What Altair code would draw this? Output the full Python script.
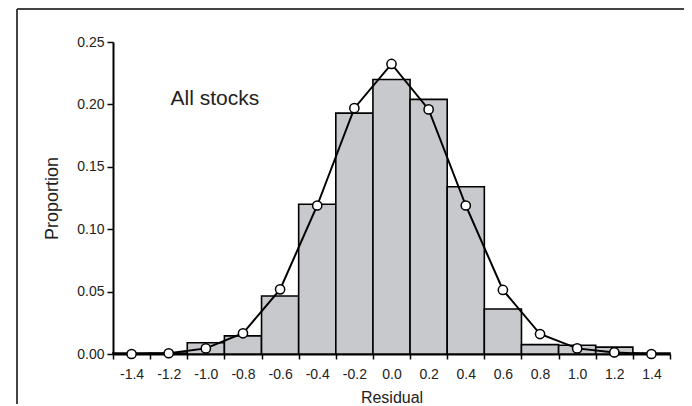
import altair as alt
import pandas as pd

# ---- data ----
bin_centers = [-1.4, -1.2, -1.0, -0.8, -0.6, -0.4, -0.2, 0.0, 0.2, 0.4, 0.6, 0.8, 1.0, 1.2, 1.4]
bar_props = [0.0008, 0.0008, 0.009, 0.0145, 0.0465, 0.120, 0.193, 0.220, 0.204, 0.134, 0.036, 0.0075, 0.007, 0.0055, 0.0008]
fit_props = [0.0, 0.0006, 0.0045, 0.0166, 0.0518, 0.119, 0.197, 0.2324, 0.196, 0.119, 0.0513, 0.016, 0.0045, 0.0013, 0.0]
x_tick_values = [-1.5, -1.3, -1.1, -0.9, -0.7, -0.5, -0.3, -0.1, 0.1, 0.3, 0.5, 0.7, 0.9, 1.1, 1.3, 1.5]
y_tick_values = [0.0, 0.05, 0.10, 0.15, 0.20, 0.25]
annot_text = ["All stocks"]
annot_x = [-1.19]
annot_y = [0.204]

FONT = "Liberation Sans"
TXT = "#222222"

df = pd.DataFrame({"center": bin_centers, "bar": bar_props, "fit": fit_props})

x_scale = alt.Scale(domain=[-1.5, 1.5], nice=False, zero=False)
y_scale = alt.Scale(domain=[0, 0.25], nice=False)

label_expr = (
    "datum.value > 1.45 ? '' : "
    "((round((datum.value + 0.1) * 10) < 0 ? '-' : '') + "
    "format(abs(round((datum.value + 0.1) * 10)) / 10, '.1f'))"
)

x_axis = alt.Axis(
    values=x_tick_values, labelExpr=label_expr, labelOffset=18.57,
    tickSize=5, tickWidth=1.5, tickColor="black",
    domainColor="black", domainWidth=2,
    labelFont=FONT, labelFontSize=14, labelColor=TXT, labelPadding=8,
    labelFlush=False, labelOverlap=False,
    title="Residual", titleFont=FONT, titleFontSize=16, titleFontWeight="normal",
    titleColor=TXT, titlePadding=8, grid=False,
)
y_axis = alt.Axis(
    values=y_tick_values, format=".2f",
    tickSize=6, tickWidth=1.5, tickColor="black",
    domainColor="black", domainWidth=2,
    labelFont=FONT, labelFontSize=14, labelColor=TXT, labelPadding=3,
    title="Proportion", titleFont=FONT, titleFontSize=18, titleFontWeight="normal",
    titleColor=TXT, titlePadding=15, grid=False,
)

base = alt.Chart(df)

bars = base.transform_calculate(
    lo="datum.center - 0.1", hi="datum.center + 0.1"
).mark_bar(fill="#c8c9cc", stroke="black", strokeWidth=1.6).encode(
    x=alt.X("lo:Q", scale=x_scale, axis=x_axis),
    x2="hi:Q",
    y=alt.Y("bar:Q", scale=y_scale, axis=y_axis),
    y2=alt.datum(0),
)

line = base.mark_line(color="black", strokeWidth=2).encode(
    x=alt.X("center:Q", scale=x_scale, axis=x_axis),
    y=alt.Y("fit:Q", scale=y_scale, axis=y_axis),
)

points = base.mark_point(
    shape="circle", filled=True, fill="white", stroke="black",
    strokeWidth=1.5, size=85, opacity=1,
).encode(
    x=alt.X("center:Q", scale=x_scale, axis=x_axis),
    y=alt.Y("fit:Q", scale=y_scale, axis=y_axis),
)

annot_df = pd.DataFrame({"x": annot_x, "y": annot_y, "t": annot_text})
annot = alt.Chart(annot_df).mark_text(
    align="left", baseline="middle", font=FONT, fontSize=21, color=TXT
).encode(
    x=alt.X("x:Q", scale=x_scale, axis=x_axis),
    y=alt.Y("y:Q", scale=y_scale, axis=y_axis),
    text="t:N",
)

frame_df = pd.DataFrame({"k": [0]})
frame_top = alt.Chart(frame_df).mark_rule(color="#444444", strokeWidth=2).encode(
    x=alt.value(-96), x2=alt.value(571), y=alt.value(-33)
)
frame_left = alt.Chart(frame_df).mark_rule(color="#444444", strokeWidth=2).encode(
    x=alt.value(-96), y=alt.value(-33), y2=alt.value(362)
)

chart = alt.layer(bars, line, points, annot, frame_top, frame_left).properties(
    width=557, height=312,
    autosize=alt.AutoSizeParams(type="none"),
    padding={"left": 105, "top": 34, "right": 14, "bottom": 50},
).configure_view(stroke=None)

chart.save("out.html", embed_options={"renderer": "svg", "actions": False})
